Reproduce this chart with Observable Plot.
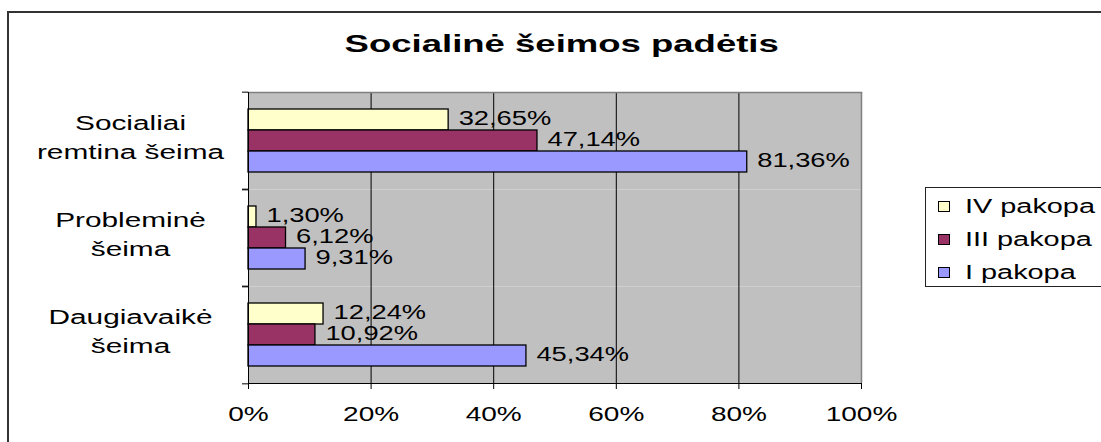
<!DOCTYPE html>
<html><head><meta charset="utf-8">
<script src="https://cdn.jsdelivr.net/npm/d3@7"></script>
<script src="https://cdn.jsdelivr.net/npm/@observablehq/plot@0.6"></script>
<style>
html,body{margin:0;padding:0;background:#fff;}
#wrap{position:relative;width:1101px;height:442px;overflow:hidden;font-family:"Liberation Sans",Arial,sans-serif;color:#000;}
#border{position:absolute;left:7px;top:11px;width:1200px;height:500px;border:2px solid #333;box-sizing:border-box;}
#title{position:absolute;left:0;top:32px;width:1123px;text-align:center;font-weight:bold;font-size:24.5px;line-height:1;white-space:nowrap;}
#title span{display:inline-block;transform:scaleX(1.49);}
#chart{position:absolute;left:0;top:0;}
#legend{position:absolute;left:925px;top:187px;width:300px;height:100px;border:1px solid #222;box-sizing:border-box;background:#fff;padding-top:2px;}
.row{display:flex;align-items:center;height:33px;}
.sw{width:12px;height:11px;border:1px solid #000;box-sizing:border-box;margin-left:12px;margin-right:15px;flex:none;}
.lt{font-size:19.5px;display:inline-block;transform:scaleX(1.48);transform-origin:left center;white-space:nowrap;}
</style>
</head>
<body>
<div id="wrap">
  <div id="border"></div>
  <div id="title"><span>Socialinė šeimos padėtis</span></div>
  <div id="chart"></div>
  <div id="legend"></div>
</div>
<script>
const categories = ["Socialiai remtina šeima", "Probleminė šeima", "Daugiavaikė šeima"];
const categoryLabels = ["Socialiai\nremtina šeima", "Probleminė\nšeima", "Daugiavaikė\nšeima"];
const seriesNames = ["IV pakopa", "III pakopa", "I pakopa"];
const seriesColors = ["#FFFFCC", "#993366", "#9999FF"];
const ivPakopa = [0.3265, 0.0130, 0.1224];
const iiiPakopa = [0.4714, 0.0612, 0.1092];
const iPakopa = [0.8136, 0.0931, 0.4534];
const xTicks = [0, 0.2, 0.4, 0.6, 0.8, 1];

const seriesValues = [ivPakopa, iiiPakopa, iPakopa];
const data = seriesNames.flatMap((s, si) =>
  categories.map((c, ci) => ({category: c, series: s, value: seriesValues[si][ci]})));
const fmtValue = v => (v * 100).toFixed(2).replace(".", ",") + "%";

const W = 1101, H = 442, mL = 248, mR = 240, mT = 91, mB = 58;
const facetH = (H - mT - mB) / categories.length;

const chart = Plot.plot({
  width: W, height: H,
  marginLeft: mL, marginRight: mR, marginTop: mT, marginBottom: mB,
  style: {fontFamily: "'Liberation Sans', Arial, sans-serif", fontSize: "20px", color: "#000", background: "transparent", overflow: "visible"},
  x: {domain: [0, 1], axis: null},
  y: {domain: seriesNames, paddingInner: 0, paddingOuter: 0.74, axis: null},
  fy: {domain: categories, padding: 0, axis: null},
  color: {domain: seriesNames, range: seriesColors},
  marks: [
    Plot.frame({fill: "#c0c0c0"}),
    Plot.gridX(xTicks.slice(1, -1), {stroke: "#000", strokeOpacity: 1, strokeWidth: 1}),
    Plot.ruleX([1], {stroke: "#808080", strokeWidth: 1.5}),
    Plot.frame({anchor: "top", stroke: "#808080", strokeWidth: 1.5, facetAnchor: "top"}),
    Plot.barX(data, {x: "value", y: "series", fy: "category", fill: "series", stroke: "#000", strokeWidth: 1.3}),
    Plot.text(data, {x: "value", y: "series", fy: "category", text: d => fmtValue(d.value), textAnchor: "start", dx: 10, dy: -1, fontSize: 19.5, fill: "#000"}),
    Plot.ruleX([0], {stroke: "#000"}),
    Plot.frame({anchor: "bottom", stroke: "#000", facetAnchor: "bottom"}),
    Plot.axisX(xTicks, {tickSize: 6, tickPadding: 17.5, tickFormat: d3.format(".0%"), label: null, fontSize: 20}),
    Plot.axisFy({anchor: "left", tickSize: 0, tickPadding: 118, textAnchor: "middle", lineHeight: 1.45, fontSize: 20, dy: -6,
      tickFormat: c => categoryLabels[categories.indexOf(c)], label: null}),
    Plot.axisFy({anchor: "left", tickSize: 6, text: null, dy: -facetH / 2, label: null}),
    Plot.axisFy({anchor: "left", tickSize: 6, text: null, dy: facetH / 2, label: null})
  ]
});
document.getElementById("chart").appendChild(chart);

function stretch(sel, k) {
  chart.querySelectorAll(sel).forEach(t => {
    const tspans = t.querySelectorAll("tspan");
    const targets = tspans.length ? [...tspans] : [t];
    targets.forEach(el => {
      const L = el.getComputedTextLength();
      el.setAttribute("textLength", L * k);
      el.setAttribute("lengthAdjust", "spacingAndGlyphs");
    });
  });
}
stretch('g[aria-label="text"] text', 1.40);
stretch('[aria-label="x-axis tick label"] text', 1.40);
stretch('[aria-label="fy-axis tick label"] text', 1.49);

const legend = document.getElementById("legend");
seriesNames.forEach((s, i) => {
  const row = document.createElement("div");
  row.className = "row";
  const sw = document.createElement("span");
  sw.className = "sw";
  sw.style.background = seriesColors[i];
  const lt = document.createElement("span");
  lt.className = "lt";
  lt.textContent = s;
  row.appendChild(sw);
  row.appendChild(lt);
  legend.appendChild(row);
});
</script>
</body></html>
